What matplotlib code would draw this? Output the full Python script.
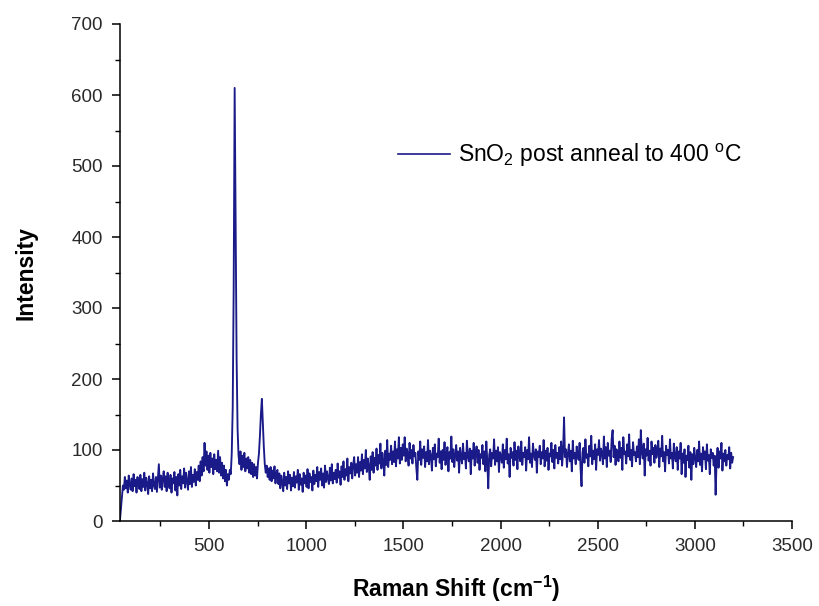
import numpy as np
import matplotlib
matplotlib.use("Agg")
import matplotlib.pyplot as plt

# Raman spectrum, one value every 5 cm-1 from 42 cm-1
shift_start = 42
shift_step = 5

# 42 - 597 cm-1
int_low = [2, 18, 34, 50, 44, 62, 46, 57, 40, 64, 51, 44, 60, 42, 66, 49, 58, 40, 62, 50,
           45, 65, 42, 59, 48, 68, 43, 61, 53, 38, 63, 46, 58, 42, 67, 50, 45, 62, 41, 60,
           80, 47, 64, 44, 59, 70, 48, 63, 42, 68, 53, 46, 65, 40, 60, 53, 69, 43, 62, 36,
           66, 50, 72, 45, 63, 53, 74, 47, 68, 56, 44, 70, 52, 76, 48, 65, 55, 73, 50, 69,
           58, 78, 56, 84, 64, 90, 70, 110, 78, 98, 72, 92, 68, 96, 76, 88, 66, 94, 73, 86,
           70, 99, 68, 90, 64, 82, 60, 78, 56, 72, 50, 66]
# 602 - 847 cm-1 (SnO2 bands near 632 and 772)
int_peaks = [58, 72, 66, 95, 160, 330, 610, 420, 230, 130, 92, 80, 98, 72, 92, 76, 96, 70, 88, 74,
             90, 68, 86, 66, 82, 62, 80, 64, 76, 60, 82, 95, 120, 150, 172, 140, 105, 80, 68, 78,
             62, 74, 58, 76, 56, 71, 60, 77, 53, 68]
# 852 - 1497 cm-1
int_mid = [72, 52, 67, 46, 64, 55, 42, 68, 50, 62, 45, 70, 53, 65, 43, 61, 49, 69, 47, 63,
           54, 72, 44, 66, 51, 60, 41, 68, 53, 64, 48, 73, 46, 67, 55, 62, 43, 71, 52, 65,
           56, 76, 48, 69, 58, 74, 50, 67, 47, 78, 55, 70, 60, 52, 75, 57, 80, 53, 68, 59,
           72, 54, 81, 61, 70, 51, 77, 62, 84, 58, 73, 64, 88, 56, 76, 67, 82, 60, 79, 90,
           64, 80, 68, 90, 62, 83, 71, 94, 66, 86, 74, 100, 69, 88, 77, 58, 91, 72, 97, 68,
           89, 78, 102, 72, 93, 81, 109, 74, 96, 84, 64, 99, 79, 114, 76, 95, 86, 106, 80, 98,
           83, 112, 77, 101, 88, 118, 81, 103, 86, 108]
# 1502 - 2497 cm-1
int_high1 = [92, 118, 84, 102, 95, 78, 110, 88, 100, 81, 107, 91, 96, 74, 58, 98, 86, 112, 79, 101,
             89, 105, 76, 97, 84, 114, 80, 99, 92, 71, 103, 87, 108, 77, 95, 90, 116, 82, 98, 73,
             100, 86, 111, 79, 94, 104, 70, 97, 88, 119, 83, 101, 76, 93, 107, 85, 98, 68, 103, 90,
             81, 109, 87, 96, 74, 113, 91, 84, 102, 66, 99, 88, 110, 78, 95, 105, 82, 100, 72, 94,
             89, 107, 80, 98, 70, 112, 85, 46, 93, 101, 77, 96, 88, 115, 79, 99, 84, 104, 69, 97,
             91, 82, 108, 75, 100, 87, 116, 81, 94, 62, 103, 89, 97, 78, 111, 86, 99, 73, 105, 92,
             84, 112, 79, 96, 90, 104, 71, 100, 87, 118, 82, 95, 76, 109, 93, 86, 101, 68, 98, 90,
             106, 80, 97, 88, 114, 77, 99, 85, 103, 72, 95, 91, 110, 83, 100, 74, 107, 89, 96, 81,
             104, 87, 112, 78, 98, 146, 90, 101, 76, 95, 108, 84, 99, 70, 113, 88, 96, 80, 105, 92,
             86, 110, 74, 49, 97, 103, 82, 115, 89, 94, 77, 106, 91, 120, 80, 99, 87, 108, 72, 101]
# 2502 - 3197 cm-1
int_high2 = [93, 114, 85, 102, 96, 80, 119, 88, 104, 76, 110, 92, 99, 83, 116, 128, 90, 106, 79, 101,
             95, 84, 112, 89, 103, 72, 118, 94, 98, 81, 108, 91, 122, 86, 100, 77, 111, 93, 97, 84,
             105, 90, 115, 80, 128, 96, 88, 109, 64, 101, 92, 117, 85, 99, 78, 112, 94, 103, 82, 107,
             89, 98, 113, 76, 102, 91, 120, 84, 97, 70, 106, 93, 100, 81, 115, 88, 96, 74, 109, 90,
             84, 104, 72, 98, 88, 110, 66, 95, 82, 101, 62, 92, 86, 106, 75, 97, 58, 94, 80, 103,
             88, 76, 100, 84, 112, 79, 95, 70, 104, 87, 98, 73, 108, 85, 93, 66, 101, 89, 96, 78,
             92, 37, 86, 103, 75, 98, 88, 110, 71, 95, 84, 100, 78, 93, 87, 104, 74, 96, 82, 90]

legend_label = r"SnO$_2$ post anneal to 400 $^{\rm o}$C"

intensity = np.array(int_low + int_peaks + int_mid + int_high1 + int_high2, dtype=float)
shift = shift_start + shift_step * np.arange(len(intensity))

plt.rcParams["font.family"] = ["Liberation Sans", "DejaVu Sans"]
plt.rcParams["mathtext.fontset"] = "custom"
plt.rcParams["mathtext.rm"] = "Liberation Sans"
plt.rcParams["mathtext.bf"] = "Liberation Sans:bold"

fig = plt.figure(figsize=(8.19, 6.06), dpi=100)
ax = fig.add_axes([120 / 819, 1 - 521 / 606, 672 / 819, 497 / 606])

ax.plot(shift, intensity, color="#1a1a88", lw=1.35, label=legend_label)

ax.set_xlim(shift_start, 3500)
ax.set_ylim(0, 700)
ax.set_xticks([500, 1000, 1500, 2000, 2500, 3000, 3500])
ax.set_xticks(np.arange(250, 3500, 500), minor=True)
ax.set_yticks(np.arange(0, 701, 100))
ax.set_yticks(np.arange(50, 700, 100), minor=True)

for side in ("top", "right"):
    ax.spines[side].set_visible(False)
for side in ("left", "bottom"):
    ax.spines[side].set_linewidth(1.1)

ax.tick_params(which="major", direction="out", length=6, width=1.1,
               labelsize=13.5, pad=6.5, labelcolor="#2a2a2a")
ax.tick_params(which="minor", direction="out", length=3.5, width=1.0)

ax.set_xlabel(r"Raman Shift (cm$^{\mathbf{-1}}$)", fontsize=16.5,
              fontweight="bold", labelpad=13)
ax.set_ylabel("Intensity", fontsize=16.5, fontweight="bold", labelpad=24)

leg = ax.legend(loc="center left", bbox_to_anchor=(0.414, 0.736), frameon=False,
                fontsize=16.5, handlelength=2.27, handletextpad=0.35,
                borderaxespad=0, borderpad=0)
leg.get_lines()[0].set_linewidth(1.2)

fig.savefig("out.png", dpi=100)
